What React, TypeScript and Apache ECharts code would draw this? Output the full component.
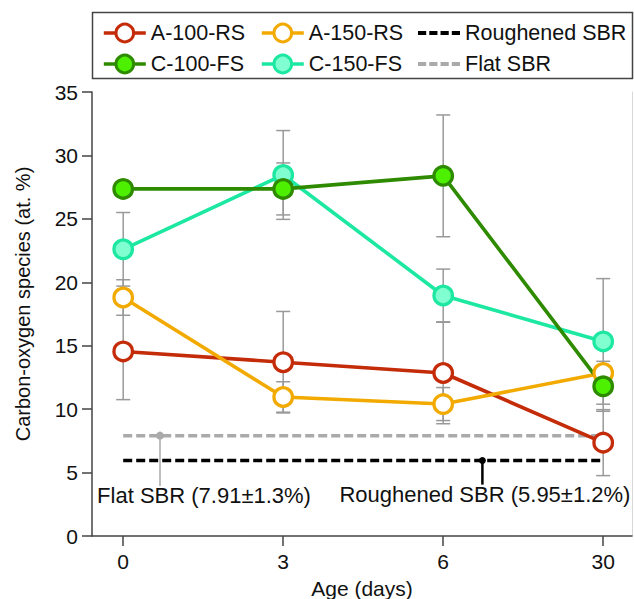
import React, { useEffect, useRef } from 'react';
import * as echarts from 'echarts';

// ---- data ----
const ageLabels = ['0', '3', '6', '30'];
const a100 = [14.55, 13.7, 12.85, 7.36];
const a100Err = [3.8, 4.0, 4.0, 2.6];
const a150 = [18.8, 10.96, 10.4, 12.85];
const a150Err = [1.4, 1.2, 1.3, 0.5];
const c100 = [27.36, 27.36, 28.39, 11.8];
const c100Err = [0.5, 2.05, 4.8, 1.97];
const c150 = [22.6, 28.46, 18.96, 15.34];
const c150Err = [2.9, 3.5, 2.08, 4.95];
const roughSBR = 5.95;
const flatSBR = 7.91;
const annNames = ['Flat SBR (7.91±1.3%)', 'Roughened SBR (5.95±1.2%)'];
const annValues = [flatSBR, roughSBR];
const annPointX = [0.23, 2.245];
const annPointEnd = [3.95, 4.05];

const FONT = '"Liberation Sans", Arial, Helvetica, sans-serif';
const RED = '#C42B08';
const ORANGE = '#F2AA00';
const GREEN = '#2E8B00';
const LIME = '#4CF000';
const MINT = '#1DE8A2';
const MINT_FILL = '#80FFD0';

export default function App() {
  const ref = useRef<HTMLDivElement>(null);
  useEffect(() => {
    if (!ref.current) return;
    const chart = echarts.init(ref.current, null, { renderer: 'svg' });

    const errData: number[][] = [];
    const groups = [
      [a100, a100Err],
      [a150, a150Err],
      [c150, c150Err],
      [c100, c100Err],
    ];
    groups.forEach(([vals, errs]) => {
      vals.forEach((v, i) => errData.push([i, v, errs[i]]));
    });

    const dashIcon = 'path://M0,0H8V4H0Z M11,0H19V4H11Z M22,0H30V4H22Z M33,0H41V4H33Z';
    const legendBase: any = {
      orient: 'vertical',
      top: 22,
      padding: 0,
      itemGap: 9,
      itemWidth: 42,
      itemHeight: 22,
      lineStyle: { width: 3.6 },
      itemStyle: { borderWidth: 3 },
      textStyle: { fontSize: 21.5, color: '#111', fontFamily: FONT },
    };

    const lineSeries = (name: string, vals: number[], line: string, fill: string) => ({
      type: 'line',
      name,
      data: vals.map((v, i) => [i, v]),
      symbol: 'circle',
      symbolSize: 18.5,
      lineStyle: { color: line, width: 3.6 },
      itemStyle: { color: fill, borderColor: line, borderWidth: 3.3 },
      z: 3,
    });

    const option: any = {
      animation: false,
      backgroundColor: '#fff',
      grid: { left: 92, right: 2, top: 92, bottom: 63, containLabel: false, outerBoundsMode: 'none' },
      legend: [
        { ...legendBase, left: 102, data: ['A-100-RS', 'C-100-FS'] },
        { ...legendBase, left: 260, data: ['A-150-RS', 'C-150-FS'] },
        {
          ...legendBase,
          left: 418,
          itemStyle: { borderWidth: 0 },
          data: [
            { name: 'Roughened SBR', icon: dashIcon },
            { name: 'Flat SBR', icon: dashIcon },
          ],
        },
      ],
      graphic: [
        {
          type: 'rect',
          shape: { x: 92.5, y: 12.5, width: 540, height: 66 },
          style: { fill: 'none', stroke: '#444', lineWidth: 1.5 },
        },
        {
          type: 'text',
          x: 23,
          y: 304,
          rotation: Math.PI / 2,
          style: {
            text: 'Carbon-oxygen species (at. %)',
            fontSize: 20,
            fontFamily: FONT,
            fill: '#111',
            align: 'center',
            verticalAlign: 'middle',
          },
        },
      ],
      xAxis: {
        type: 'value',
        min: -0.195,
        max: 3.18,
        name: 'Age (days)',
        nameLocation: 'middle',
        nameGap: 42,
        nameTextStyle: { fontSize: 21, fontFamily: FONT, color: '#111' },
        splitLine: { show: false },
        axisLine: { onZero: false, lineStyle: { color: '#444', width: 1.5 } },
        axisTick: { customValues: [0, 1, 2, 3], length: 10, lineStyle: { color: '#444', width: 1.5 } },
        axisLabel: {
          customValues: [0, 1, 2, 3],
          formatter: (v: number) => ageLabels[Math.round(v)] ?? '',
          fontSize: 21,
          fontFamily: FONT,
          color: '#111',
          margin: 15,
        },
      },
      yAxis: [
        {
          type: 'value',
          min: 0,
          max: 35,
          interval: 5,
          splitLine: { show: false },
          axisLine: { show: true, onZero: false, lineStyle: { color: '#444', width: 1.5 } },
          axisTick: { show: true, length: 10, lineStyle: { color: '#444', width: 1.5 } },
          axisLabel: { fontSize: 21, fontFamily: FONT, color: '#111', margin: 14 },
        },
        {
          type: 'value',
          min: 0,
          max: 35,
          interval: 5,
          position: 'right',
          splitLine: { show: false },
          axisLine: { show: true, onZero: false, lineStyle: { color: '#d8d8d8', width: 1 } },
          axisTick: { show: false },
          axisLabel: { show: false },
        },
      ],
      series: [
        {
          type: 'custom',
          name: 'errors',
          data: errData,
          z: 1,
          silent: true,
          renderItem: (params: any, api: any) => {
            const x = api.value(0);
            const y = api.value(1);
            const e = api.value(2);
            const t = api.coord([x, y + e]);
            const b = api.coord([x, y - e]);
            const hw = 7;
            const st = { stroke: '#999', lineWidth: 1.5 };
            return {
              type: 'group',
              children: [
                { type: 'line', shape: { x1: t[0], y1: t[1], x2: b[0], y2: b[1] }, style: st },
                { type: 'line', shape: { x1: t[0] - hw, y1: t[1], x2: t[0] + hw, y2: t[1] }, style: st },
                { type: 'line', shape: { x1: b[0] - hw, y1: b[1], x2: b[0] + hw, y2: b[1] }, style: st },
              ],
            };
          },
        },
        {
          type: 'line',
          name: 'Roughened SBR',
          color: '#000',
          data: [[0, roughSBR], [3, roughSBR]],
          symbol: 'none',
          lineStyle: { color: '#000', width: 3.5, type: [9, 4] },
          z: 2,
        },
        {
          type: 'line',
          name: 'Flat SBR',
          color: '#aaa',
          data: [[0, flatSBR], [3, flatSBR]],
          symbol: 'none',
          lineStyle: { color: '#aaa', width: 3.5, type: [9, 4] },
          z: 2,
        },
        {
          type: 'custom',
          name: 'annotations',
          data: annValues.map((v, i) => [annPointX[i], v, annPointEnd[i]]),
          z: 2,
          silent: true,
          renderItem: (params: any, api: any) => {
            const i = params.dataIndex;
            const p = api.coord([api.value(0), api.value(1)]);
            const q = api.coord([api.value(0), api.value(2)]);
            const isFlat = i === 0;
            const col = isFlat ? '#aaa' : '#000';
            const tx = isFlat ? api.coord([-0.163, 0])[0] : api.coord([3.17, 0])[0];
            return {
              type: 'group',
              children: [
                {
                  type: 'line',
                  shape: { x1: p[0], y1: p[1], x2: q[0], y2: q[1] },
                  style: { stroke: col, lineWidth: isFlat ? 1.5 : 2.5 },
                },
                { type: 'circle', shape: { cx: p[0], cy: p[1], r: isFlat ? 4 : 3.5 }, style: { fill: col } },
                {
                  type: 'text',
                  x: tx,
                  y: q[1] + 10,
                  style: {
                    text: annNames[i],
                    fontSize: 22,
                    fontFamily: FONT,
                    fill: '#111',
                    align: isFlat ? 'left' : 'right',
                    verticalAlign: 'middle',
                  },
                },
              ],
            };
          },
        },
        lineSeries('A-100-RS', a100, RED, '#fff'),
        lineSeries('A-150-RS', a150, ORANGE, '#fff'),
        lineSeries('C-150-FS', c150, MINT, MINT_FILL),
        lineSeries('C-100-FS', c100, GREEN, LIME),
      ],
    };
    chart.setOption(option);
    return () => chart.dispose();
  }, []);
  return (
    <div
      ref={ref}
      style={{ position: 'fixed', left: 0, top: 0, width: 634, height: 599, background: '#fff' }}
    />
  );
}
